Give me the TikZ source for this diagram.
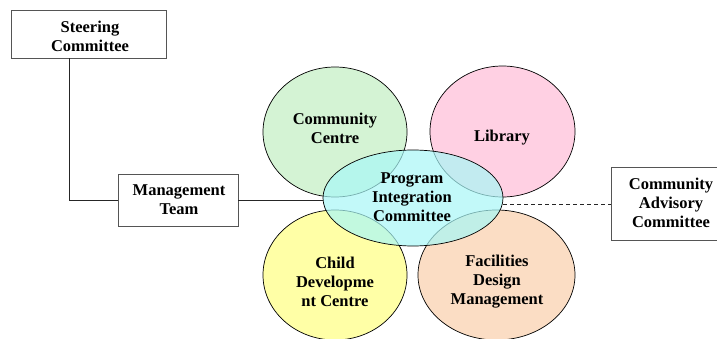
\documentclass[tikz,border=0pt]{standalone}
\usepackage{fontspec}
\setmainfont{Liberation Serif}
\usetikzlibrary{shapes.geometric}
\definecolor{cgreen}{HTML}{C6EFC6}
\definecolor{cpink}{HTML}{FFC0DA}
\definecolor{ccyan}{HTML}{A8F7F7}
\definecolor{cyell}{HTML}{FFFF88}
\definecolor{corange}{HTML}{F9D2B0}
\definecolor{boxgray}{HTML}{555555}
\tikzset{
  lbl/.style={font=\bfseries\fontsize{16.5}{19}\selectfont, align=center, inner sep=0pt},
  sqbox/.style={draw=boxgray, line width=0.9pt, fill=white, inner sep=0pt},
  blob/.style={ellipse, draw=black, line width=0.7pt, inner sep=0pt, fill opacity=0.75},
  conn/.style={draw=black!85, line width=0.8pt},
}
\begin{document}
\begin{tikzpicture}[x=1pt,y=-1pt]
\clip (0,0) rectangle (717,339);
\useasboundingbox (0,0) rectangle (717,339);
% boxes
\node[sqbox, minimum width=155, minimum height=48] (steer) at (88.5,34) {};
\node[lbl] (steerT) at (90,36) {Steering\\Committee};
\node[sqbox, minimum width=120, minimum height=52] (mgmt) at (178,200) {};
\node[lbl] (mgmtT) at (179,200) {Management\\Team};
\node[sqbox, minimum width=130, minimum height=73, anchor=north west] (cac) at (611,167) {};
\node[lbl] (cacT) at (671,203) {Community\\Advisory\\Committee};
% ellipses
\node[blob, fill=cgreen, minimum width=144, minimum height=130] (cc) at (335,132) {};
\node[blob, fill=cpink, minimum width=145, minimum height=131] (lib) at (502.5,131.5) {};
\node[blob, fill=cyell, minimum width=144, minimum height=130] (cdc) at (335,275) {};
\node[blob, fill=corange, minimum width=157, minimum height=130] (fdm) at (496.5,275) {};
\node[blob, fill=ccyan, fill opacity=0.7, minimum width=180, minimum height=96] (pic) at (413,198) {};
% connectors
\draw[conn] ([xshift=59pt]steer.south west) |- (mgmt.west);
\draw[conn] (mgmt.east) -- (mgmt.east -| pic.west);
\draw[conn, dashed, dash pattern=on 4pt off 3pt] (pic.east |- cac.west) -- (cac.west);
% labels
\node[lbl] (ccT) at (335,128) {Community\\Centre};
\node[lbl] (libT) at (502,138) {Library};
\node[lbl] (picT) at (412,197) {Program\\Integration\\Committee};
\node[lbl] (cdcT) at (335,282) {Child\\Developme\\nt Centre};
\node[lbl] (fdmT) at (497,282) {Facilities\\Design\\Management};
\end{tikzpicture}
\end{document}
